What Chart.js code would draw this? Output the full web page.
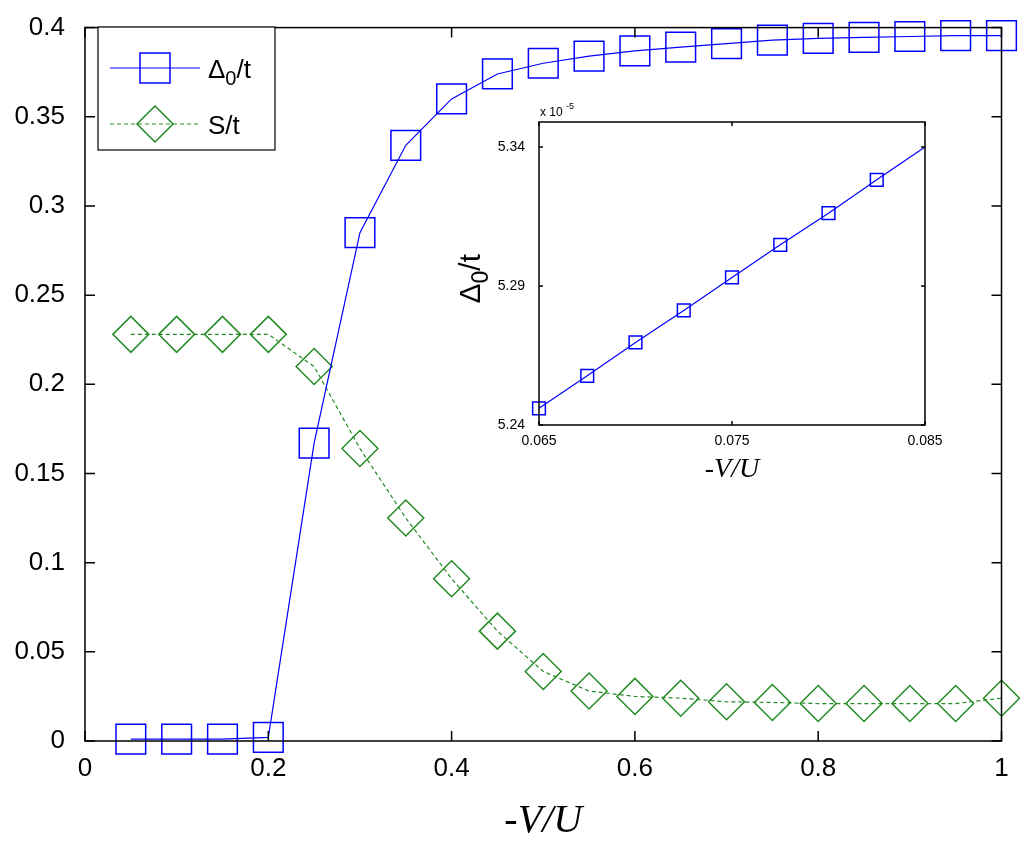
<!DOCTYPE html>
<html><head><meta charset="utf-8">
<script src="https://cdn.jsdelivr.net/npm/chart.js@4"></script>
<style>body{margin:0;background:#fff}#w{position:relative;width:1024px;height:849px}
#main{position:absolute;left:0;top:0}#ins{position:absolute;left:440px;top:90px}</style>
</head><body><div id="w"><canvas id="main" width="1024" height="849"></canvas><canvas id="ins" width="520" height="400"></canvas></div>
<script>
const xVals=[0.05,0.1,0.15,0.2,0.25,0.3,0.35,0.4,0.45,0.5,0.55,0.6,0.65,0.7,0.75,0.8,0.85,0.9,0.95,1.0];
const delta=[0.001,0.001,0.001,0.002,0.167,0.285,0.334,0.36,0.374,0.38,0.384,0.387,0.389,0.391,0.393,0.394,0.3945,0.395,0.3955,0.3955];
const sVals=[0.228,0.228,0.228,0.228,0.21,0.164,0.125,0.091,0.0616,0.039,0.028,0.025,0.024,0.022,0.0216,0.021,0.021,0.021,0.021,0.024];
const insX=[0.065,0.0675,0.07,0.0725,0.075,0.0775,0.08,0.0825,0.085];
const insY=[5.246,5.2577,5.2697,5.2812,5.2931,5.3048,5.3162,5.3282,5.340];
const mainYTicks=[0,0.05,0.1,0.15,0.2,0.25,0.3,0.35,0.4];
const mainXTicks=[0,0.2,0.4,0.6,0.8,1];
const insXTicks=[0.065,0.075,0.085];
const insYTicks=[5.24,5.29,5.34];
const BLUE='#0000ff',GREEN='#228b22';
Chart.defaults.animation=false;
function frame(len){return{id:'frame',afterDraw(c){const{ctx,chartArea:a,scales:{x,y}}=c;ctx.save();ctx.strokeStyle='#000';ctx.lineWidth=1.5;ctx.strokeRect(a.left,a.top,a.right-a.left,a.bottom-a.top);ctx.beginPath();
x.ticks.forEach(t=>{const p=x.getPixelForValue(t.value);ctx.moveTo(p,a.bottom);ctx.lineTo(p,a.bottom-len);ctx.moveTo(p,a.top);ctx.lineTo(p,a.top+len);});
y.ticks.forEach(t=>{const p=y.getPixelForValue(t.value);ctx.moveTo(a.left,p);ctx.lineTo(a.left+len,p);ctx.moveTo(a.right,p);ctx.lineTo(a.right-len,p);});ctx.stroke();ctx.restore();}}}
function fixTicks(arr){return function(s){s.ticks=arr.map(v=>({value:v}));}}
function delta0(ctx,x,y,size){ctx.font=size+'px "Liberation Sans", Arial';ctx.textBaseline='alphabetic';ctx.textAlign='left';ctx.fillText('Δ',x,y);let w=ctx.measureText('Δ').width;ctx.font=Math.round(size*0.75)+'px "Liberation Sans", Arial';ctx.fillText('0',x+w,y+size*0.25);let w2=ctx.measureText('0').width;ctx.font=size+'px "Liberation Sans", Arial';ctx.fillText('/t',x+w+w2,y);}
const legendPlugin={id:'leg',afterDraw(c){const ctx=c.ctx;ctx.save();ctx.fillStyle='#fff';ctx.strokeStyle='#000';ctx.lineWidth=1.2;ctx.fillRect(98,27,177,123);ctx.strokeRect(98,27,177,123);
ctx.strokeStyle=BLUE;ctx.lineWidth=1.2;ctx.beginPath();ctx.moveTo(110,68);ctx.lineTo(200,68);ctx.stroke();ctx.lineWidth=1.5;ctx.strokeRect(140,53,30,30);
ctx.strokeStyle=GREEN;ctx.lineWidth=1.2;ctx.setLineDash([4,3]);ctx.beginPath();ctx.moveTo(110,124);ctx.lineTo(200,124);ctx.stroke();ctx.setLineDash([]);ctx.lineWidth=1.5;ctx.beginPath();ctx.moveTo(155,106);ctx.lineTo(173,124);ctx.lineTo(155,142);ctx.lineTo(137,124);ctx.closePath();ctx.stroke();
ctx.fillStyle='#000';delta0(ctx,208,78,26);ctx.font='26px "Liberation Sans", Arial';ctx.fillText('S/t',208,134);ctx.restore();}};
new Chart(document.getElementById('main'),{type:'scatter',data:{datasets:[
{data:xVals.map((v,i)=>({x:v,y:delta[i]})),showLine:true,clip:false,borderColor:BLUE,borderWidth:1.2,pointStyle:'rect',pointRadius:21,pointBorderColor:BLUE,pointBackgroundColor:'rgba(0,0,0,0)',pointBorderWidth:1.5,tension:0},
{data:xVals.map((v,i)=>({x:v,y:sVals[i]})),showLine:true,clip:false,borderColor:GREEN,borderDash:[4,3],borderWidth:1.2,pointStyle:'rectRot',pointRadius:18,pointBorderColor:GREEN,pointBackgroundColor:'rgba(0,0,0,0)',pointBorderWidth:1.5,tension:0}]},
options:{responsive:false,layout:{padding:{top:20,right:21}},plugins:{legend:{display:false},tooltip:{enabled:false}},
scales:{x:{min:0,max:1,afterBuildTicks:fixTicks(mainXTicks),afterFit(s){s.height=108;},grid:{display:false},border:{display:false},
ticks:{color:'#000',font:{size:26,family:'"Liberation Sans", Arial'},maxRotation:0,padding:4,callback:v=>String(+v.toFixed(2))},
title:{display:true,text:'-V/U',color:'#000',font:{size:40,style:'italic',family:'"Liberation Serif", "Times New Roman"'},padding:{top:0}}},
y:{min:0,max:0.4,afterBuildTicks:fixTicks(mainYTicks),afterFit(s){s.width=85;},grid:{display:false},border:{display:false},
ticks:{color:'#000',font:{size:26,family:'"Liberation Sans", Arial'},padding:12,callback:v=>String(+v.toFixed(2))}}}},
plugins:[frame(10),legendPlugin]});
const insPlug={id:'ins',afterDraw(c){const ctx=c.ctx,a=c.chartArea;ctx.save();ctx.fillStyle='#000';ctx.font='12px "Liberation Sans", Arial';ctx.textAlign='left';ctx.fillText('x 10',a.left+1,a.top-6);ctx.font='9px "Liberation Sans", Arial';ctx.fillText('-5',a.left+27,a.top-13);
ctx.translate(40,(a.top+a.bottom)/2+30);ctx.rotate(-Math.PI/2);delta0(ctx,0,0,30);ctx.restore();}};
new Chart(document.getElementById('ins'),{type:'scatter',data:{datasets:[
{data:insX.map((v,i)=>({x:v,y:insY[i]})),showLine:true,clip:false,borderColor:BLUE,borderWidth:1.2,pointStyle:'rect',pointRadius:insX.map((v,i)=>i===insX.length-1?0:9),pointBorderColor:BLUE,pointBackgroundColor:'rgba(0,0,0,0)',pointBorderWidth:1.5,tension:0}]},
options:{responsive:false,layout:{padding:{top:32,right:35}},plugins:{legend:{display:false},tooltip:{enabled:false}},
scales:{x:{min:0.065,max:0.085,afterBuildTicks:fixTicks(insXTicks),afterFit(s){s.height=65;},grid:{display:false},border:{display:false},
ticks:{color:'#000',font:{size:14,family:'"Liberation Sans", Arial'},maxRotation:0,padding:0,callback:v=>v.toFixed(3)},
title:{display:true,text:'-V/U',color:'#000',font:{size:28,style:'italic',family:'"Liberation Serif", "Times New Roman"'},padding:{top:2}}},
y:{min:5.24,max:5.349,afterBuildTicks:fixTicks(insYTicks),afterFit(s){s.width=99;},grid:{display:false},border:{display:false},
ticks:{color:'#000',font:{size:14,family:'"Liberation Sans", Arial'},padding:6,callback:v=>v.toFixed(2)}}}},
plugins:[frame(4),insPlug]});
</script></body></html>
